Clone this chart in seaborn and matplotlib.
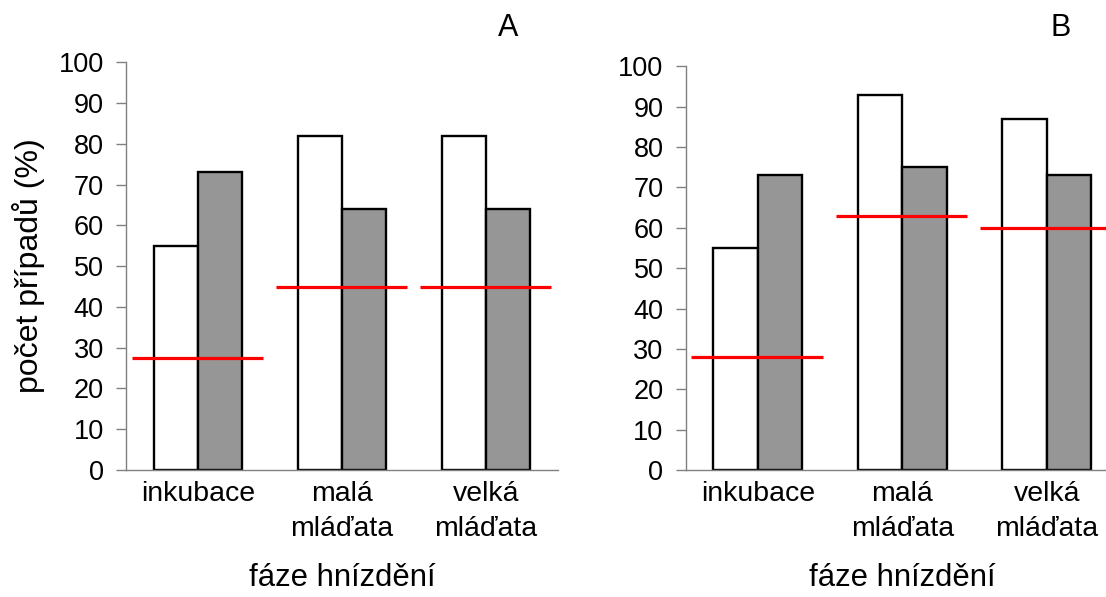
import matplotlib
matplotlib.use("Agg")
import matplotlib.pyplot as plt
import pandas as pd
import seaborn as sns

# Breeding phases (category axis)
phases = ["inkubace", "malá\nmláďata", "velká\nmláďata"]
series = ["série 1", "série 2"]

# Panel A
a_open = [55, 82, 82]
a_filled = [73, 64, 64]
a_expected = [27.5, 45, 45]

# Panel B
b_open = [55, 93, 87]
b_filled = [73, 75, 73]
b_expected = [28, 63, 60]

yticks = list(range(0, 101, 10))

sns.set_theme(style="white", rc={
    "text.color": "black",
    "axes.labelcolor": "black",
    "xtick.color": "black",
    "ytick.color": "black",
})
plt.rcParams["font.family"] = ["Liberation Sans", "DejaVu Sans"]

W, H = 1106, 597
fig = plt.figure(figsize=(W / 100, H / 100), dpi=100)


def px_rect(x0, y0, x1, y1):
    """Pixel box (top-left origin) -> figure-fraction rect."""
    return [x0 / W, 1 - y1 / H, (x1 - x0) / W, (y1 - y0) / H]


panels = [
    ("A", a_open, a_filled, a_expected, px_rect(126, 62.3, 558, 470), (508, 28)),
    ("B", b_open, b_filled, b_expected, px_rect(685.7, 66.3, 1119, 470), (1061, 28)),
]

for i, (letter, opened, filled, expected, rect, letter_xy) in enumerate(panels):
    df = pd.DataFrame({
        "faze": phases * 2,
        "serie": [series[0]] * len(phases) + [series[1]] * len(phases),
        "podil": opened + filled,
    })
    ax = fig.add_axes(rect)
    sns.barplot(
        data=df, x="faze", y="podil", hue="serie",
        order=phases, hue_order=series,
        palette=["white", "#969696"], saturation=1,
        width=0.616, edgecolor="black", linewidth=1.7,
        errorbar=None, legend=False, ax=ax,
    )
    # expected level per phase
    for j, v in enumerate(expected):
        ax.hlines(v, j - 0.46, j + 0.45, color="#FF0000", lw=2.3, zorder=5)

    ax.set_xlim(-0.5, 2.5)
    ax.set_ylim(0, 100)
    ax.set_yticks(yticks)
    ax.set_xlabel("")
    ax.set_ylabel("")
    sns.despine(ax=ax)
    for side in ("left", "bottom"):
        ax.spines[side].set_color("#808080")
        ax.spines[side].set_linewidth(1.0)
    ax.tick_params(axis="y", left=True, length=7, width=1.0, color="#808080",
                   labelsize=19.5, pad=9)
    ax.tick_params(axis="x", bottom=False, length=0, labelsize=20.5, pad=8)
    for lbl in ax.get_xticklabels():
        lbl.set_linespacing(1.45)

    pos = ax.get_position()
    fig.text(pos.x0 + pos.width / 2, 1 - 586.5 / H, "fáze hnízdění",
             ha="center", va="baseline", fontsize=22.3)
    fig.text(letter_xy[0] / W, 1 - letter_xy[1] / H, letter,
             ha="center", va="center", fontsize=22)

fig.text(29 / W, 1 - 266 / H, "počet případů (%)", rotation=90,
         ha="center", va="center", fontsize=23)

fig.savefig("out.png", dpi=100)
